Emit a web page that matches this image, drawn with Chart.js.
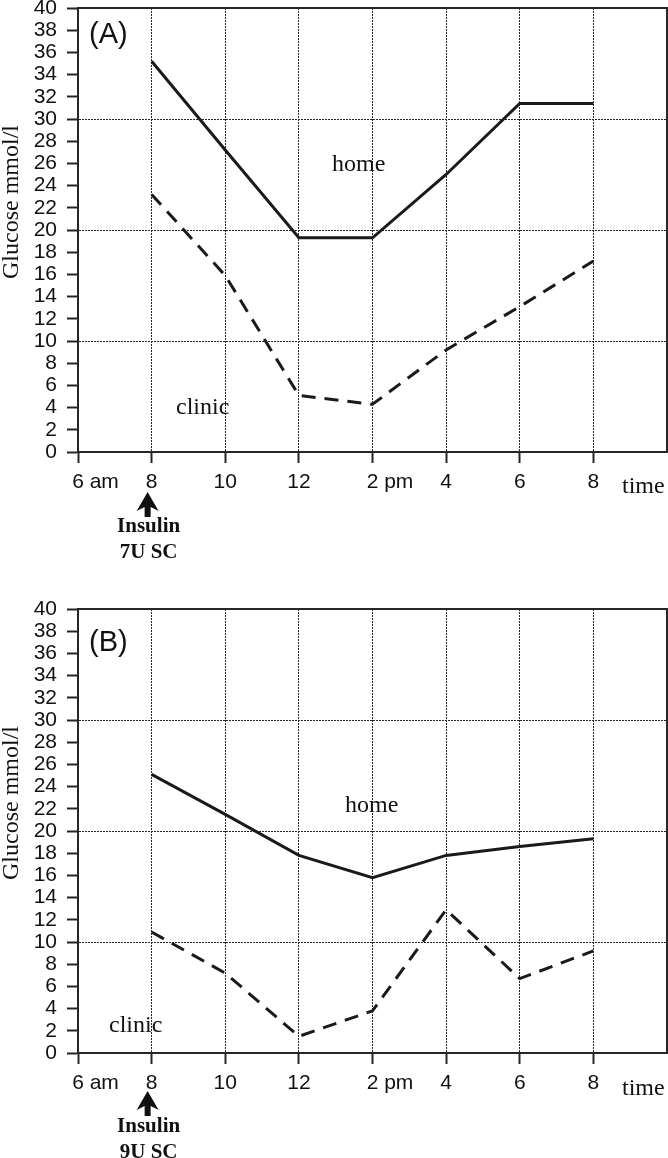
<!DOCTYPE html>
<html>
<head>
<meta charset="utf-8">
<script src="https://cdn.jsdelivr.net/npm/chart.js@4.4.0/dist/chart.umd.min.js"></script>
<style>
  body { margin: 0; background: #fff; }
  #wrap { position: relative; width: 668px; height: 1158px; }
  canvas { position: absolute; left: 0; }
  #chartA { top: 0; }
  #chartB { top: 601px; }
</style>
</head>
<body>
<div id="wrap">
  <canvas id="chartA" width="668" height="600"></canvas>
  <canvas id="chartB" width="668" height="557"></canvas>
</div>
<script>
// data (hours of the day, glucose mmol/l)
const hours = [8, 10, 12, 14, 16, 18, 20];
const homeA = [35.2, 27.2, 19.3, 19.3, 25.0, 31.4, 31.4];
const clinicA = [23.2, 15.9, 5.1, 4.3, 9.2, 13.1, 17.2];
const homeB = [25.1, 21.5, 17.8, 15.8, 17.8, 18.6, 19.3];
const clinicB = [10.9, 7.2, 1.5, 3.8, 12.9, 6.7, 9.2];
const timeTicks = [6, 8, 10, 12, 14, 16, 18, 20];
// leading spaces keep the number itself under its tick
const timeLabels = ["      6 am", "8", "10", "12", "      2 pm", "4", "6", "8"];
const yGridValues = [10, 20, 30];

const ink = "#262626";
const sans = "'Liberation Sans', Arial, sans-serif";
const serif = "'Liberation Serif', 'Times New Roman', serif";

function toPoints(ys) {
  return hours.map((h, i) => ({ x: h, y: ys[i] }));
}

// text, borders and the insulin arrow
const notesPlugin = {
  id: "notes",
  afterDraw(chart, args, o) {
    const ctx = chart.ctx;
    const a = chart.chartArea;
    ctx.save();

    // top + right frame
    ctx.strokeStyle = ink;
    ctx.lineWidth = 2;
    ctx.beginPath();
    ctx.moveTo(a.left - 1, a.top);
    ctx.lineTo(a.right, a.top);
    ctx.lineTo(a.right, a.bottom + 1);
    ctx.stroke();

    ctx.fillStyle = "#111";
    ctx.textBaseline = "alphabetic";
    ctx.textAlign = "left";

    ctx.font = "29px " + sans;
    ctx.fillText(o.panel, 89, o.panelY);

    ctx.font = "24px " + serif;
    ctx.fillText("home", o.homeX, o.homeY);
    ctx.fillText("clinic", o.clinicX, o.clinicY);
    ctx.fillText("time", 622, o.timeY);

    // y title
    ctx.save();
    ctx.translate(12, 202);
    ctx.rotate(-Math.PI / 2);
    ctx.textAlign = "center";
    ctx.textBaseline = "middle";
    ctx.font = "24px " + serif;
    ctx.fillText("Glucose mmol/l", 0, 0);
    ctx.restore();

    // arrow under 8 am
    const cx = chart.scales.x.getPixelForValue(8) - 4;
    const t = o.arrowTip;
    ctx.beginPath();
    ctx.moveTo(cx, t);
    ctx.lineTo(cx + 11, t + 19);
    ctx.lineTo(cx + 3, t + 15);
    ctx.lineTo(cx + 3, t + 25);
    ctx.lineTo(cx - 3, t + 25);
    ctx.lineTo(cx - 3, t + 15);
    ctx.lineTo(cx - 11, t + 19);
    ctx.closePath();
    ctx.fill();

    ctx.textAlign = "center";
    ctx.font = "bold 21px " + serif;
    ctx.fillText("Insulin", cx + 1, o.insY);
    ctx.fillText(o.dose, cx + 1, o.insY + 26);

    ctx.restore();
  }
};

function makeChart(id, home, clinic, notes, xHeight) {
  return new Chart(document.getElementById(id), {
    type: "line",
    data: {
      datasets: [
        {
          label: "home",
          data: toPoints(home),
          borderColor: "#1a1a1a",
          borderWidth: 3,
          pointRadius: 0,
          tension: 0,
          fill: false,
        },
        {
          label: "clinic",
          data: toPoints(clinic),
          borderColor: "#1a1a1a",
          borderWidth: 3,
          borderDash: [14, 9],
          pointRadius: 0,
          tension: 0,
          fill: false,
        },
      ],
    },
    options: {
      responsive: false,
      animation: false,
      layout: { padding: { top: 8, right: 1, left: 0, bottom: 0 } },
      plugins: {
        legend: { display: false },
        tooltip: { enabled: false },
        notes: notes,
      },
      scales: {
        x: {
          type: "linear",
          min: 6,
          max: 22,
          afterFit: (s) => {
            s.height = xHeight;
            s.paddingLeft = 0;
            s.paddingRight = 0;
          },
          ticks: {
            stepSize: 2,
            autoSkip: false,
            maxRotation: 0,
            padding: 7,
            color: "#111",
            font: { family: sans, size: 21 },
            callback: (v) => {
              const i = timeTicks.indexOf(v);
              return i >= 0 ? timeLabels[i] : "";
            },
          },
          grid: {
            color: (c) => (c.tick && c.tick.value > 6 && c.tick.value < 22 ? ink : "transparent"),
            tickColor: (c) => (c.tick && c.tick.value < 22 ? ink : "transparent"),
            lineWidth: 1,
            tickWidth: 2,
            tickLength: 11,
          },
          border: { display: true, color: ink, width: 2, dash: [2, 1] },
        },
        y: {
          min: 0,
          max: 40,
          afterFit: (s) => {
            s.width = 78;
            s.paddingTop = 0;
            s.paddingBottom = 0;
          },
          ticks: {
            stepSize: 2,
            autoSkip: false,
            padding: 10,
            color: "#111",
            font: { family: sans, size: 21 },
          },
          grid: {
            color: (c) => (c.tick && yGridValues.includes(c.tick.value) ? ink : "transparent"),
            tickColor: ink,
            lineWidth: 1,
            tickWidth: 2,
            tickLength: 11,
          },
          border: { display: true, color: ink, width: 2, dash: [2, 1] },
        },
      },
    },
    plugins: [notesPlugin],
  });
}

makeChart("chartA", homeA, clinicA, {
  panel: "(A)", panelY: 43,
  homeX: 332, homeY: 171,
  clinicX: 176, clinicY: 414,
  timeY: 493,
  arrowTip: 492, insY: 532, dose: "7U SC",
}, 148);

makeChart("chartB", homeB, clinicB, {
  panel: "(B)", panelY: 50,
  homeX: 345, homeY: 211,
  clinicX: 109, clinicY: 431,
  timeY: 494,
  arrowTip: 490, insY: 531, dose: "9U SC",
}, 105);
</script>
</body>
</html>
